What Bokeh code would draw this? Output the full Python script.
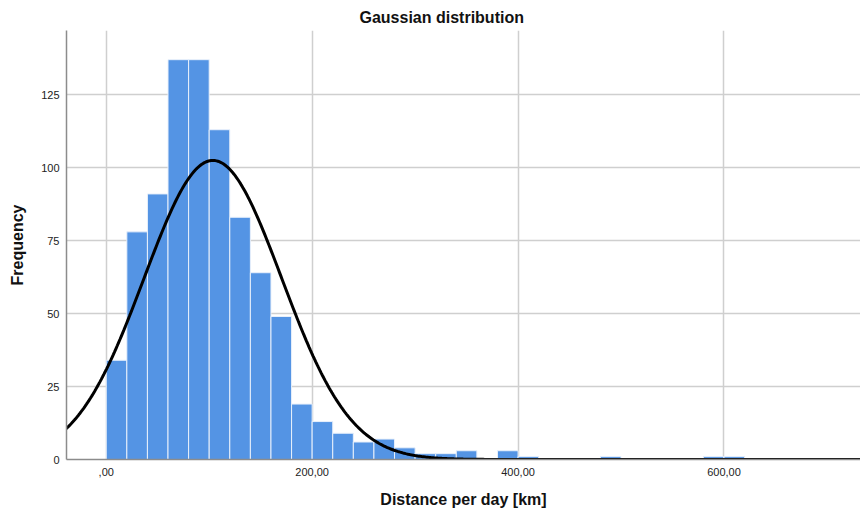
import numpy as np
from bokeh.plotting import figure
from bokeh.models import ColumnDataSource, FixedTicker, CustomJSTickFormatter, Range1d
from bokeh.embed import file_html
from bokeh.resources import INLINE

# Histogram bins (left edges, width 20 km) and counts
bin_left = [0, 20, 40, 60, 80, 100, 120, 140, 160, 180, 200, 220, 240, 260, 280,
            300, 320, 340, 380, 400, 480, 580, 600]
counts = [34, 78, 91, 137, 137, 113, 83, 64, 49, 19, 13, 9, 6, 7, 4,
          2, 2, 3, 3, 1, 1, 1, 1]
bin_width = 20
x_ticks = [0, 200, 400, 600]
y_ticks = [0, 25, 50, 75, 100, 125]

FONT = "Liberation Sans"

left = np.array(bin_left, dtype=float)
right = left + bin_width
cnt = np.array(counts, dtype=float)
mid = left + bin_width / 2

# fitted normal curve from the histogram's own mean / sd
n = cnt.sum()
mean = (cnt * mid).sum() / n
sd = np.sqrt((cnt * (mid - mean) ** 2).sum() / (n - 1))
xs = np.linspace(-40, 740, 600)
ys = n * bin_width / (sd * np.sqrt(2 * np.pi)) * np.exp(-0.5 * ((xs - mean) / sd) ** 2)

src = ColumnDataSource(dict(left=left, right=right, top=cnt, bottom=np.zeros_like(cnt)))

p = figure(width=860, height=514, output_backend="svg", toolbar_location=None,
           x_range=Range1d(-38.6, 732.6), y_range=Range1d(0, 147),
           min_border_left=66, min_border_right=0, min_border_top=30, min_border_bottom=55,
           title="Gaussian distribution")
p.title.align = "left"
p.title.offset = 293
p.title.text_font = FONT
p.title.text_font_size = "16px"
p.title.text_font_style = "bold"
p.title.text_color = "#111111"

p.quad(left="left", right="right", top="top", bottom="bottom", source=src,
       fill_color="#5494E4", line_color="#E8F0FB", line_width=1)
p.line(xs, ys, line_color="black", line_width=3)

p.outline_line_color = None
p.background_fill_color = "white"

p.xaxis.ticker = FixedTicker(ticks=x_ticks)
p.yaxis.ticker = FixedTicker(ticks=y_ticks)
p.xaxis.formatter = CustomJSTickFormatter(code="""
    if (tick == 0) { return ',00'; }
    return tick.toFixed(2).replace('.', ',');
""")
for ax in (p.xaxis, p.yaxis):
    ax.major_tick_line_color = None
    ax.minor_tick_line_color = None
    ax.axis_line_color = "#8c8c8c"
    ax.axis_line_width = 1.5
    ax.major_label_text_font = FONT
    ax.major_label_text_font_size = "11px"
    ax.major_label_text_color = "#222222"
    ax.axis_label_text_font = FONT
    ax.axis_label_text_font_size = "16px"
    ax.axis_label_text_font_style = "bold"
    ax.axis_label_text_color = "#111111"

p.xaxis.axis_label = "Distance per day [km]"
p.yaxis.axis_label = "Frequency"
p.xaxis.major_label_standoff = 2
p.xaxis.axis_label_standoff = 12
p.yaxis.major_label_standoff = 1
p.yaxis.axis_label_standoff = 12

p.xgrid.ticker = FixedTicker(ticks=x_ticks)
p.ygrid.ticker = FixedTicker(ticks=y_ticks[1:])
p.grid.grid_line_color = "#cfcfcf"
p.grid.grid_line_width = 1.5

open("out.html", "w").write(file_html(p, INLINE))
